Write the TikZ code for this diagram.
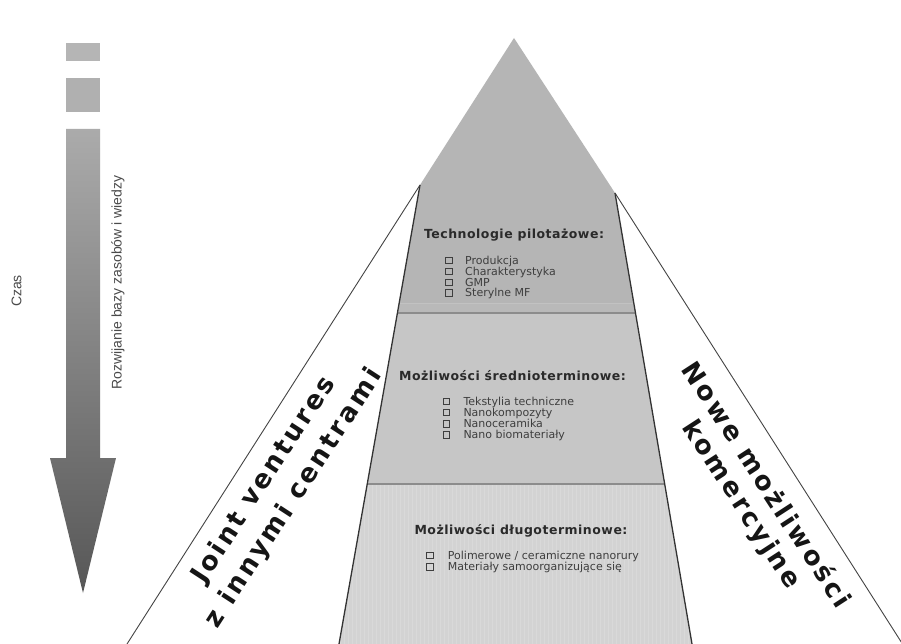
\documentclass[tikz,border=0pt]{standalone}
\usepackage{fontspec}
\setmainfont{DejaVu Sans}
\newfontfamily\arialf{Liberation Sans}
\newfontfamily\bigf[LetterSpace=11]{DejaVu Sans}
\newfontfamily\headf[LetterSpace=4]{DejaVu Sans}
\newfontfamily\itemf{DejaVu Sans}
\definecolor{topband}{HTML}{B5B5B5}
\definecolor{stripband}{HTML}{B9B9B9}
\definecolor{midband}{HTML}{C6C6C6}
\definecolor{lowband}{HTML}{D3D3D3}
\definecolor{sepline}{HTML}{8C8C8C}
\definecolor{edgeline}{HTML}{333333}
\definecolor{outline}{HTML}{444444}
\definecolor{headtext}{HTML}{2A2A2A}
\definecolor{itemtext}{HTML}{3E3E3E}
\definecolor{sidetext}{HTML}{4A4A4A}
\definecolor{bigtext}{HTML}{151515}
\begin{document}
\begin{tikzpicture}[x=1pt,y=-1pt,
  bandsep/.style={draw=sepline,line width=1.2pt},
  edge/.style={draw=edgeline,line width=1.3pt},
  outer/.style={draw=outline,line width=0.9pt},
  headlbl/.style={font=\headf\bfseries\fontsize{12.5}{14}\selectfont,text=headtext,inner sep=0pt,anchor=base},
  itemlbl/.style={font=\itemf\fontsize{11}{12}\selectfont,text=itemtext,inner sep=0pt,anchor=base west},
  chk/.style={draw=itemtext,line width=0.6pt,minimum size=6.5pt,inner sep=0pt},
  biglbl/.style={font=\bigf\bfseries\fontsize{26}{30}\selectfont,text=bigtext,inner sep=0pt},
  sidelbl/.style={font=\arialf\fontsize{14}{16}\selectfont,text=sidetext,inner sep=0pt}
]
\useasboundingbox (0,0) rectangle (901,644);
\fill[white] (0,0) rectangle (901,644);

% key points of the pyramid
\coordinate (apex) at (514,38);
\coordinate (tl) at (420,185);
\coordinate (tr) at (615,193);
\coordinate (la) at (399.2,303);
\coordinate (ra) at (633.8,303);
\coordinate (l1) at (397.4,313);
\coordinate (r1) at (635.5,313);
\coordinate (l2) at (367.2,484);
\coordinate (r2) at (664.7,484);
\coordinate (bl) at (339,644);
\coordinate (br) at (692,644);
\coordinate (ol) at (127,644);
\coordinate (or) at (902.5,644);

% bands
\fill[topband] (apex) -- (tr) -- (r1) -- (l1) -- (tl) -- cycle;
\fill[stripband] (la) -- (ra) -- (r1) -- (l1) -- cycle;
\fill[midband] (l1) -- (r1) -- (r2) -- (l2) -- cycle;
\fill[lowband] (l2) -- (r2) -- (br) -- (bl) -- cycle;
\begin{scope}
  \clip (l2) -- (r2) -- (br) -- (bl) -- cycle;
  \draw[color=black!15,line width=0.25pt,step=4] (330,484) grid (700,650);
\end{scope}
\draw[color=black!24,line width=0.4pt] (la) -- (ra);
\draw[bandsep] (l1) -- (r1);
\draw[bandsep] (l2) -- (r2);
\draw[edge] (tl) -- (bl);
\draw[edge] (tr) -- (br);
\draw[outer] (tl) -- (ol);
\draw[outer] (tr) -- (or);

% time arrow
\fill[black!29] (66,43) rectangle (100,61);
\fill[black!31] (66,78) rectangle (100,112);
\shade[top color=black!33,bottom color=black!66]
  (66,129) -- (100,129) -- (100,458) -- (116,458) -- (83,593) -- (50,458) -- (66,458) -- cycle;

\node[sidelbl,rotate=90] (czas) at (16.5,291) {Czas};
\node[sidelbl,rotate=90] (rozw) at (118,282.5) {Rozwijanie bazy zasobów i wiedzy};

% headings
\node[headlbl] (h1) at (514,238.3) {Technologie pilotażowe:};
\node[headlbl] (h2) at (512.5,380.7) {Możliwości średnioterminowe:};
\node[headlbl] (h3) at (521,534.3) {Możliwości długoterminowe:};

% items, top band
\foreach \yy/\txt [count=\i] in {264.3/Produkcja,275.3/Charakterystyka,286/GMP,296.7/Sterylne MF}{
  \node[chk] (c1\i) at (448.7,\yy-3.8) {};
  \node[itemlbl] (t1\i) at (465,\yy) {\txt};
}
% items, middle band
\foreach \yy/\txt [count=\i] in {405/Tekstylia techniczne,416.2/Nanokompozyty,427.4/Nanoceramika,438.6/Nano biomateriały}{
  \node[chk] (c2\i) at (446.5,\yy-3.8) {};
  \node[itemlbl] (t2\i) at (463.3,\yy) {\txt};
}
% items, bottom band
\node[chk] (c31) at (429.7,555.5) {};
\node[itemlbl] (t31) at (447.7,559.3) {Polimerowe / ceramiczne nanorury};
\node[chk] (c32) at (429.7,566.8) {};
\node[itemlbl] (t32) at (447.7,570.6) {Materiały samoorganizujące się};

% side labels
\node[biglbl,rotate=57] (jv1) at (264,480) {Joint ventures};
\node[biglbl,rotate=57] (jv2) at (294,498.5) {z innymi centrami};
\node[biglbl,rotate=-57] (nm1) at (767.5,484) {Nowe możliwości};
\node[biglbl,rotate=-57] (nm2) at (741,505) {komercyjne};
\end{tikzpicture}
\end{document}
